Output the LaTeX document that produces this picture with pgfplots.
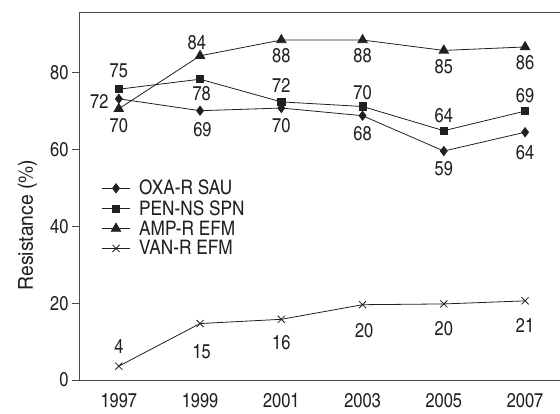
\documentclass[border=0pt]{standalone}
\usepackage{pgfplots}
\pgfplotsset{compat=1.18}
\usepackage{fontspec}
\setmainfont{texgyreheroscn}[Extension=.otf, UprightFont=*-regular, BoldFont=*-bold, ItalicFont=*-italic, BoldItalicFont=*-bolditalic]
\newfontfamily\legfont{texgyreheroscn}[Extension=.otf, UprightFont=*-regular, FakeStretch=1.05]
\newfontfamily\labfont{texgyreheroscn}[Extension=.otf, UprightFont=*-regular, FakeStretch=1.15]
\definecolor{ink}{HTML}{231F20}
\definecolor{axc}{HTML}{4A4A4A}
\newcommand{\lf}{\fontsize{20}{21}\selectfont}
\begin{document}
\begin{tikzpicture}
\useasboundingbox (-79pt,-33pt) rectangle (481pt,380pt);
\begin{axis}[
  scale only axis,
  width=481pt, height=368pt,
  xmin=-0.49, xmax=5.43,
  ymin=0, ymax=95.8,
  axis x line*=bottom, axis y line*=left,
  axis line style={axc, line width=0.8pt, -},
  xtick={0,1,2,3,4,5},
  xticklabels={1997,1999,2001,2003,2005,2007},
  major x tick style={draw=none},
  extra x ticks={0.5,1.5,2.5,3.5,4.5},
  extra x tick labels={},
  extra x tick style={major tick length=7pt, tick style={axc, line width=0.8pt}, tick align=outside},
  ytick={0,20,40,60,80},
  major tick length=7pt,
  tick align=outside,
  tick style={axc, line width=0.8pt},
  /pgf/number format/assume math mode=true,
  ticklabel style={font=\lf, text=ink},
  xticklabel style={yshift=-3pt},
  ylabel={Resistance (\%)},
  every axis y label/.style={at={(axis description cs:-0.0957,0.421)}, rotate=90, anchor=base,
    font=\labfont\fontsize{20.5}{22}\selectfont, text=ink, inner sep=0pt},
  clip=false,
  legend cell align=left,
  legend style={draw=none, fill=none, at={(0.047,0.549)}, anchor=north west,
    inner sep=0pt, font=\legfont\lf, text=ink, row sep=0pt, column sep=7pt,
    nodes={inner sep=2pt}},
  legend image code/.code={\draw[mark repeat=2,mark phase=2,#1] plot coordinates {(0pt,0pt) (13.8pt,0pt) (27.6pt,0pt)};},
  every axis plot/.append style={ink, line width=0.8pt},
]
\addplot[mark=diamond*, mark size=4.6pt, mark options={solid, fill=ink}] coordinates {
  (0,73.2) (1,70.1) (2,70.8) (3,68.8) (4,59.6) (5,64.5)};
\addlegendentry{OXA-R SAU}
\addplot[mark=square*, mark size=3.6pt, mark options={solid, fill=ink}] coordinates {
  (0,75.7) (1,78.3) (2,72.4) (3,71.2) (4,64.9) (5,70.0)};
\addlegendentry{PEN-NS SPN}
\addplot[mark=triangle*, mark size=5.4pt, mark options={solid, fill=ink}] coordinates {
  (0,70.6) (1,84.4) (2,88.5) (3,88.5) (4,85.8) (5,86.7)};
\addlegendentry{AMP-R EFM}
\addplot[mark=x, mark size=5pt, mark options={solid}] coordinates {
  (0,3.6) (1,14.7) (2,15.8) (3,19.6) (4,19.8) (5,20.6)};
\addlegendentry{VAN-R EFM}
% data labels
\begin{scope}[every node/.style={font=\lf, text=ink, inner sep=0pt}]
\node at (axis cs:0,80.5) {75};
\node at (axis cs:-0.24,72.5) {72};
\node at (axis cs:0,66.1) {70};
\node at (axis cs:0.96,87.8) {84};
\node at (axis cs:1.02,74.5) {78};
\node at (axis cs:1.03,65.1) {69};
\node at (axis cs:2,84.4) {88};
\node at (axis cs:2,76.6) {72};
\node at (axis cs:2,66.1) {70};
\node at (axis cs:3,84.4) {88};
\node at (axis cs:3,74.9) {70};
\node at (axis cs:3,64.2) {68};
\node at (axis cs:4,81.6) {85};
\node at (axis cs:4,68.8) {64};
\node at (axis cs:4,54.9) {59};
\node at (axis cs:5,82.5) {86};
\node at (axis cs:5,74.0) {69};
\node at (axis cs:5,59.3) {64};
\node at (axis cs:0,8.7) {4};
\node at (axis cs:1.02,7.3) {15};
\node at (axis cs:2,9.6) {16};
\node at (axis cs:3.02,12.8) {20};
\node at (axis cs:4,13.3) {20};
\node at (axis cs:5,14.3) {21};
\end{scope}
\draw[axc, line width=0.8pt] (rel axis cs:0,1) -- (rel axis cs:1,1);
\end{axis}
\end{tikzpicture}
\end{document}
